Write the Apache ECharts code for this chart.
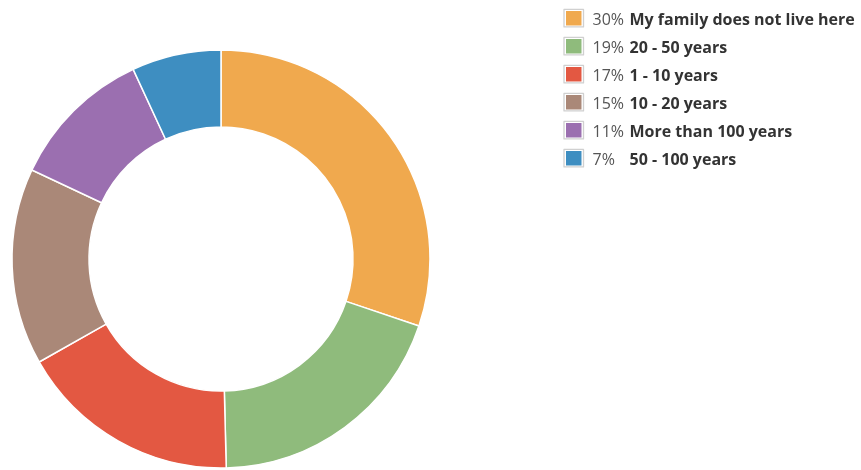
<!DOCTYPE html>
<html>
<head>
<meta charset="utf-8">
<script src="https://cdn.jsdelivr.net/npm/echarts@6/dist/echarts.min.js"></script>
<style>html,body{margin:0;padding:0;background:#fff}#c{width:861px;height:470px}</style>
</head>
<body>
<div id="c"></div>
<script>
const categories = ['My family does not live here', '20 - 50 years', '1 - 10 years', '10 - 20 years', 'More than 100 years', '50 - 100 years'];
const values = [30.2, 19.4, 17.2, 15.2, 11.1, 6.9];
const colors = ['#F0A94E', '#8FBB7C', '#E35842', '#AA8878', '#9B6FB0', '#3E8EC1'];

const total = values.reduce((a, b) => a + b, 0);
const pct = {};
categories.forEach((c, i) => { pct[c] = Math.round(values[i] / total * 100) + '%'; });

const richStyle = {
  p: { fontFamily: 'Open Sans', fontSize: 16, lineHeight: 14, color: '#555555', width: 37, padding: [5, 0, 0, 4] },
  n: { fontFamily: 'Open Sans', fontSize: 16, lineHeight: 14, fontWeight: 'bold', color: '#333333', padding: [5, 0, 0, 0] }
};
const richHidden = {
  p: Object.assign({}, richStyle.p, { color: 'rgba(0,0,0,0)' }),
  n: Object.assign({}, richStyle.n, { color: 'rgba(0,0,0,0)' })
};
const legendBase = {
  orient: 'vertical',
  padding: 0,
  itemHeight: 17.5,
  icon: 'rect',
  selectedMode: false,
  top: 7.7,
  itemGap: 7,
  data: categories,
  formatter: name => '{p|' + pct[name] + '}{n|' + name + '}'
};

const chart = echarts.init(document.getElementById('c'));
chart.setOption({
  animation: false,
  color: colors,
  legend: [
    Object.assign({}, legendBase, {
      z: 4,
      left: 563,
      itemWidth: 18.5,
      itemStyle: { borderColor: '#ffffff', borderWidth: 3 },
      textStyle: { rich: richHidden }
    }),
    Object.assign({}, legendBase, {
      z: 5,
      left: 563.35,
      itemWidth: 19.5,
      itemStyle: { color: 'rgba(0,0,0,0)', borderColor: '#d0d0d0', borderWidth: 1.3 },
      textStyle: { rich: richStyle }
    })
  ],
  series: [{
    type: 'pie',
    center: [221, 259],
    radius: [132, 209],
    startAngle: 90,
    clockwise: true,
    label: { show: false },
    labelLine: { show: false },
    itemStyle: { borderColor: '#ffffff', borderWidth: 1.5 },
    emphasis: { disabled: true },
    data: categories.map((c, i) => ({ name: c, value: values[i] }))
  }]
});
</script>
</body>
</html>
